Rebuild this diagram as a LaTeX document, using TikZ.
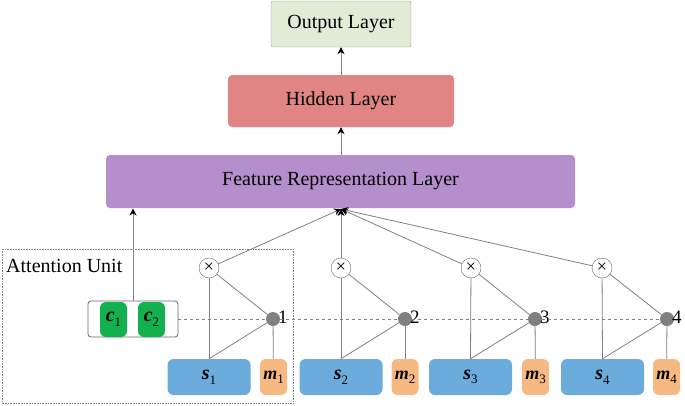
\documentclass[tikz,border=0pt]{standalone}
\usepackage{fontspec}
\setmainfont{Liberation Serif}
\usetikzlibrary{arrows.meta}
\definecolor{outg}{HTML}{E2EBD5}
\definecolor{hidr}{HTML}{E08583}
\definecolor{feap}{HTML}{B48FCB}
\definecolor{sblue}{HTML}{6CACDC}
\definecolor{morg}{HTML}{F7B982}
\definecolor{cgrn}{HTML}{12B04F}
\definecolor{lgray}{HTML}{808080}
\tikzset{
  layer/.style={rounded corners=4pt, font=\fontsize{20}{24}\selectfont, inner sep=0pt},
  sbox/.style={fill=sblue, rounded corners=6pt, minimum width=83pt, minimum height=36pt, inner sep=0pt, font=\fontsize{20}{24}\selectfont},
  mbox/.style={fill=morg, rounded corners=6pt, minimum width=27pt, minimum height=36pt, inner sep=0pt, font=\fontsize{18}{22}\selectfont},
  cbox/.style={fill=cgrn, rounded corners=6pt, minimum width=27pt, minimum height=35pt, inner sep=0pt, font=\fontsize{20}{24}\selectfont},
  crossn/.style={circle, draw=lgray!80!black, fill=white, minimum size=20pt, inner sep=0pt, font=\fontsize{18}{18}\selectfont},
  dotn/.style={circle, fill=lgray, minimum size=14pt, inner sep=0pt},
  conn/.style={draw=lgray, line width=0.8pt},
  arr/.style={conn, -{Stealth[length=7pt,width=7pt,black]}},
  numl/.style={font=\fontsize{19}{22}\selectfont, inner sep=0pt},
}
\newcommand{\bv}[2]{\textbf{\textit{#1}}\raisebox{-0.5ex}{\fontsize{13}{13}\selectfont #2}}
\begin{document}
\begin{tikzpicture}[x=1pt,y=-1pt]
\useasboundingbox (0,0) rectangle (685,405);
% layers
\node[layer, draw=lgray!80, fill=outg, rounded corners=2pt, minimum width=140pt, minimum height=46pt] (out) at (341,24) {Output Layer};
\node[layer, fill=hidr, minimum width=226pt, minimum height=52pt] (hid) at (341,101) {Hidden Layer};
\node[layer, fill=feap, minimum width=469pt, minimum height=53pt] (fea) at (340.5,181.5) {Feature Representation Layer};
\draw[arr] (hid.north) -- (out.south);
\draw[arr] (fea.north -| hid.south) -- (hid.south);
% attention unit
\draw[lgray, densely dotted, line width=0.6pt] (2,249) rectangle (293,403);
\node[anchor=west, font=\fontsize{20}{24}\selectfont, inner sep=0pt] (au) at (6,266) {Attention Unit};
% c box
\node[draw=lgray!80!black, fill=white, rounded corners=3pt, minimum width=90pt, minimum height=36pt, line width=0.8pt] (cb) at (133,319) {};
\node[cbox] (c1) at (113.5,319.5) {\bv{c}{1}};
\node[cbox] (c2) at (151.5,319.5) {\bv{c}{2}};
\draw[arr] (cb.north) -- (133,208.5);
\coordinate (tip) at (341,209);
% units
\foreach \i/\xc/\xd/\sx/\mx in {1/209/273/209/273.5, 2/341/405/341/405, 3/471/535/470.5/535.5, 4/602/667/602.5/666.5} {
  \node[sbox] (s\i) at (\sx,377) {\bv{s}{\i}};
  \node[mbox] (m\i) at (\mx,377) {\bv{m}{\i}};
  \node[dotn] (d\i) at (\xd,319) {};
  \node[numl, anchor=south west] (n\i) at (\xd+5,324) {\i};
}
\draw[lgray, dashed, line width=0.7pt] (cb.east) -- (d1) -- (d2) -- (d3) -- (d4);
\foreach \i/\xc in {1/209, 2/341, 3/471, 4/602} {
  \node[crossn] (x\i) at (\xc,268) {×};
  \draw[conn] (x\i) -- (s\i.north);
  \draw[conn] (s\i.north) -- (d\i);
  \draw[conn] (x\i) -- (d\i);
  \draw[conn] (d\i) -- (m\i);
  \draw[arr] (x\i) -- (tip);
}
\end{tikzpicture}
\end{document}
